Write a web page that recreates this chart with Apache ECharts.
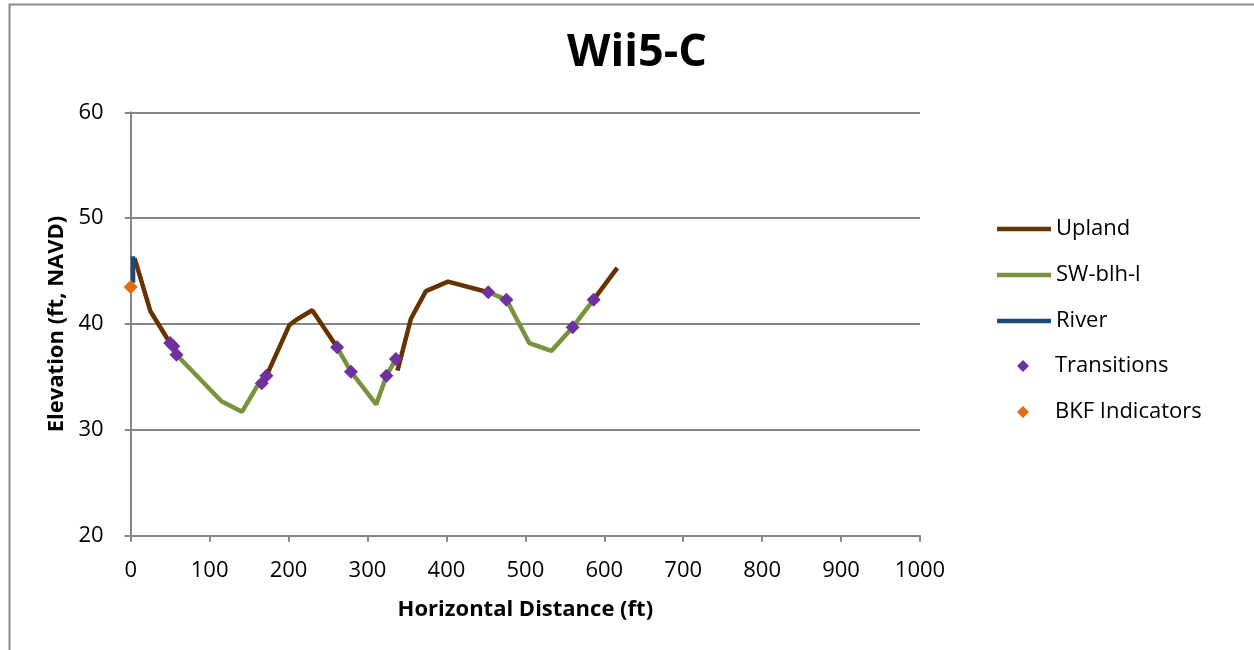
<!DOCTYPE html>
<html>
<head>
<meta charset="utf-8">
<script src="https://cdn.jsdelivr.net/npm/echarts@6/dist/echarts.min.js"></script>
<style>
html,body{margin:0;padding:0;background:#fff;}
#c{width:1254px;height:650px;}
</style>
</head>
<body>
<div id="c"></div>
<script>
// ---- data (x = horizontal distance ft, y = elevation ft NAVD) ----
const uplandSeg1 = [[5,46.2],[25,41.2],[49,38.3],[54,37.9]];
const uplandSeg2 = [[172,35.1],[201,39.9],[210,40.4],[230,41.3],[261.5,37.8]];
const uplandSeg3 = [[338,35.6],[355,40.5],[374,43.1],[402,44.0],[453,43.0]];
const uplandSeg4 = [[586.5,42.3],[616.5,45.3]];

const swSeg1 = [[54,37.9],[58,37.1],[115,32.7],[141,31.7],[160,34.1],[166,34.4],[172,35.1]];
const swSeg2 = [[261.5,37.8],[279,35.5],[311,32.4],[324,35.1],[336,36.7]];
const swSeg3 = [[453,43.0],[476,42.3],[505,38.2],[533,37.45],[560,39.7],[586.5,42.3]];

const river = [[3,46.4],[3,43.9]];

const transitions = [[50,38.2],[54,37.9],[58,37.1],[166,34.4],[172,35.1],[261.5,37.8],[279,35.5],[324,35.1],[336,36.7],[453,43.0],[476,42.3],[560,39.7],[586.5,42.3]];
const bkf = [[0,43.5]];

const xTicks = {min:0, max:1000, interval:100};
const yTicks = {min:20, max:60, interval:10};
const legendNames = ['Upland','SW-blh-l','River','Transitions','BKF Indicators'];

// ---- chart ----
const FONT = 'Open Sans';
const C_UP = '#663300', C_SW = '#77933C', C_RIV = '#1F497D', C_TR = '#7030A0', C_BKF = '#E46C0A';

function lineSeries(name, data, color){
  return {name, type:'line', data, symbol:'none', showSymbol:false,
    lineStyle:{color, width:4.5}, itemStyle:{color}, z:2, animation:false};
}

const legendTops = [229, 275, 321, 366, 412];
const legends = legendNames.map((n, i) => {
  const isLine = i < 3;
  return {
    orient:'vertical',
    padding:0,
    left: isLine ? 997 : 1017,
    top: legendTops[i] - 14,
    height: 28,
    itemWidth: isLine ? 54 : 12,
    itemHeight: isLine ? 4.5 : 12,
    icon: isLine ? 'rect' : 'diamond',
    data:[n],
    textStyle:{fontFamily:FONT, fontSize:22, color:'#000', lineHeight:28,
      padding: isLine ? [0,0,0,0] : [0,0,0,21]}
  };
});

const chart = echarts.init(document.getElementById('c'), null, {renderer:'canvas'});
chart.setOption({
  animation:false,
  backgroundColor:'#fff',
  graphic:[{type:'rect', left:7, top:2, shape:{width:1280, height:680},
    style:{fill:'none', stroke:'#8c8c8c', lineWidth:2}, silent:true}],
  title:{text:'Wii5-C', left:567, top:31, padding:0,
    textStyle:{fontFamily:FONT, fontWeight:'bold', fontSize:45, color:'#000'}},
  grid:{left:130.7, right:334, top:112.3, bottom:114.3},
  legend:legends,
  xAxis:{type:'value', min:xTicks.min, max:xTicks.max, interval:xTicks.interval,
    name:'Horizontal Distance (ft)', nameLocation:'middle', nameGap:63,
    nameTextStyle:{fontFamily:FONT, fontWeight:'bold', fontSize:22, color:'#000'},
    axisLine:{lineStyle:{color:'#868686', width:2}},
    axisTick:{show:true, length:6, lineStyle:{color:'#868686', width:2}},
    axisLabel:{fontFamily:FONT, fontSize:22, color:'#000', margin:24,
      formatter: v => String(v)},
    splitLine:{show:false}},
  yAxis:{type:'value', min:yTicks.min, max:yTicks.max, interval:yTicks.interval,
    name:'Elevation (ft, NAVD)', nameLocation:'middle', nameGap:63,
    nameTextStyle:{fontFamily:FONT, fontWeight:'bold', fontSize:22, color:'#000'},
    axisLine:{show:true, lineStyle:{color:'#868686', width:2}},
    axisTick:{show:true, length:6, lineStyle:{color:'#868686', width:2}},
    axisLabel:{fontFamily:FONT, fontSize:22, color:'#000', margin:27},
    splitLine:{show:true, lineStyle:{color:'#868686', width:2}}},
  series:[
    lineSeries('Upland', uplandSeg1, C_UP),
    lineSeries('Upland', uplandSeg2, C_UP),
    lineSeries('Upland', uplandSeg3, C_UP),
    lineSeries('Upland', uplandSeg4, C_UP),
    lineSeries('SW-blh-l', swSeg1, C_SW),
    lineSeries('SW-blh-l', swSeg2, C_SW),
    lineSeries('SW-blh-l', swSeg3, C_SW),
    lineSeries('River', river, C_RIV),
    {name:'Transitions', type:'scatter', data:transitions, symbol:'diamond', symbolSize:14,
      itemStyle:{color:C_TR, opacity:1}, z:3},
    {name:'BKF Indicators', type:'scatter', data:bkf, symbol:'diamond', symbolSize:14,
      itemStyle:{color:C_BKF, opacity:1}, z:3}
  ]
});
</script>
</body>
</html>
